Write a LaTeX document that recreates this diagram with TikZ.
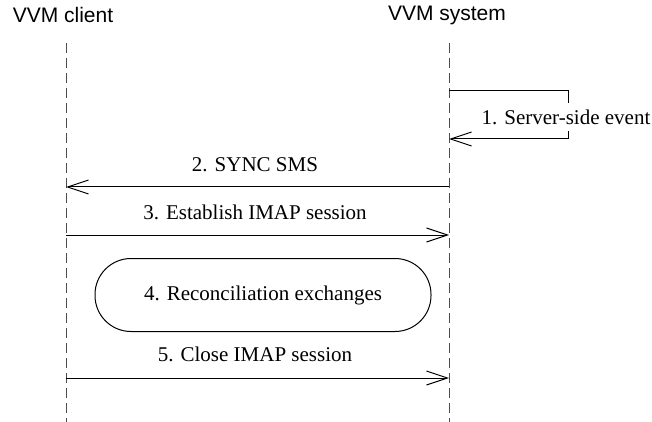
\documentclass[tikz,border=0pt]{standalone}
\usepackage{fontspec}
\setmainfont{Liberation Serif}
\setsansfont{Liberation Sans}
\usetikzlibrary{positioning,arrows.meta}

\begin{document}
\begin{tikzpicture}[x=0.5pt,y=-0.5pt,
        lifeline/.style={draw=black!70, line width=0.5pt, dash pattern=on 5pt off 2.5pt},
        msg/.style={-{Straight Barb[length=10.5pt,width=7pt]}, line width=0.5pt},
        msglabel/.style={font=\fontsize{10.5}{12}\selectfont, inner sep=1pt},
        actor/.style={font=\sffamily\fontsize{10.5}{12}\selectfont}]
        \useasboundingbox (0,0) rectangle (652,422);

        \node[actor] (client) at (63,15) {VVM client};
        \node[actor] (system) at (447,15) {VVM system};

        % lifelines
        \coordinate (ctop) at (66,43);
        \coordinate (cbot) at (66,422);
        \coordinate (stop) at (449,43);
        \coordinate (sbot) at (449,422);
        \draw[lifeline] (ctop) -- (cbot);
        \draw[lifeline] (stop) -- (sbot);

        % 1. self message
        \coordinate (e1) at (449,91);
        \coordinate (e2) at (568,91);
        \coordinate (e3) at (568,139);
        \coordinate (e4) at (449,139);
        \draw[msg] (e1) -- (e2) -- (e3) -- (e4);
        \node[msglabel, fill=white, inner sep=3.5pt] (event) at (566,117) {1. Server-side event};

        % 2. SYNC SMS
        \coordinate (s2) at (449,187);
        \coordinate (c2) at (66,187);
        \draw[msg] (s2) -- (c2);
        \node[msglabel] (sync) at (255,165) {2. SYNC SMS};

        % 3. establish
        \coordinate (c3) at (66,235);
        \coordinate (s3) at (449,235);
        \draw[msg] (c3) -- (s3);
        \node[msglabel] (open) at (255,212) {3. Establish IMAP session};

        % 4. reconciliation
        \node[msglabel, draw, line width=0.5pt, minimum width=168pt, minimum height=36.5pt,
              rounded corners=18pt] (recon) at (263,295) {4. Reconciliation exchanges};

        % 5. close
        \coordinate (c5) at (66,378);
        \coordinate (s5) at (449,378);
        \draw[msg] (c5) -- (s5);
        \node[msglabel] (close) at (255,354) {5. Close IMAP session};
\end{tikzpicture}
\end{document}
